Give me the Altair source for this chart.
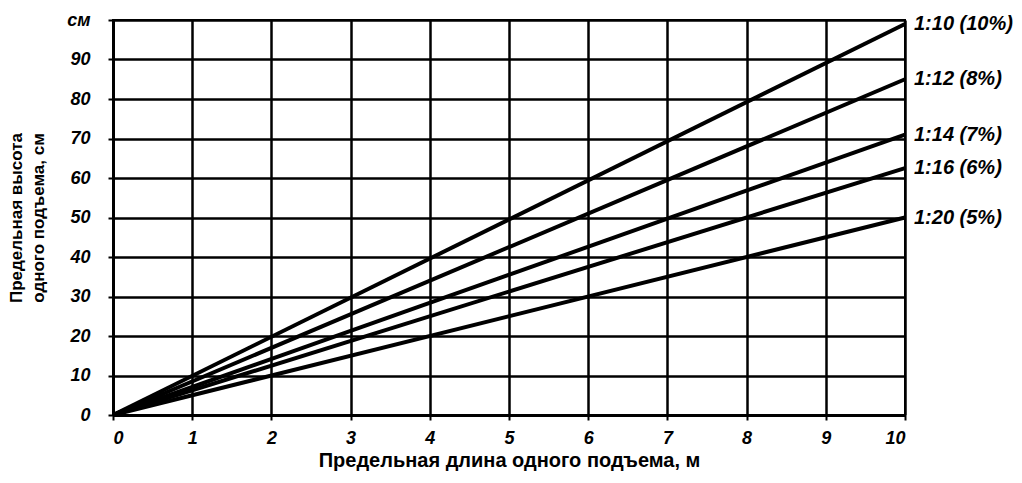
import altair as alt
import pandas as pd

ratios = ["1:10 (10%)", "1:12 (8%)", "1:14 (7%)", "1:16 (6%)", "1:20 (5%)"]
start_len = [0, 0, 0, 0, 0]
end_len = [10, 10, 10, 10, 10]
start_h = [0, 0, 0, 0, 0]
end_h = [99, 85, 71, 62.5, 50]
x_ticks = [0, 1, 2, 3, 4, 5, 6, 7, 8, 9, 10]
y_ticks = [0, 10, 20, 30, 40, 50, 60, 70, 80, 90, 100]

rows = []
for r, x0, x1, y0, y1 in zip(ratios, start_len, end_len, start_h, end_h):
    rows.append({"ratio": r, "x": x0, "y": y0})
    rows.append({"ratio": r, "x": x1, "y": y1})
lines_df = pd.DataFrame(rows)
labels_df = pd.DataFrame({"ratio": ratios, "x": end_len, "y": end_h})

FONT = "Liberation Sans"

xscale = alt.Scale(domain=[0, 10], nice=False, zero=True)
yscale = alt.Scale(domain=[0, 100], nice=False, zero=True)

xaxis = alt.Axis(values=x_ticks, format="d", labelOverlap=False,
                 title="Предельная длина одного подъема, м",
                 titleFontSize=20, titlePadding=3, labelPadding=9)
yaxis = alt.Axis(values=y_ticks, tickCount=11, labelOverlap=False,
                 labelExpr="datum.value == 100 ? 'см' : datum.label",
                 title=["Предельная высота", "одного подъема, см"],
                 titleFontSize=17, titleLineHeight=22, titlePadding=19, labelPadding=18)

lines = alt.Chart(lines_df).mark_line(color="black", strokeWidth=4).encode(
    x=alt.X("x:Q", scale=xscale, axis=xaxis),
    y=alt.Y("y:Q", scale=yscale, axis=yaxis),
    detail="ratio:N",
)

labels = alt.Chart(labels_df).mark_text(
    align="left", baseline="middle", dx=9, font=FONT, fontSize=20,
    fontStyle="italic", fontWeight="bold", color="black"
).encode(
    x=alt.X("x:Q", scale=xscale, axis=xaxis),
    y=alt.Y("y:Q", scale=yscale, axis=yaxis),
    text="ratio:N",
)

chart = (lines + labels).properties(
    width=792, height=395,
    autosize=alt.AutoSizeParams(type="none"),
    padding={"left": 105, "top": 12, "right": 109, "bottom": 60},
).configure_view(
    stroke="black", strokeWidth=2
).configure_axis(
    labelFont=FONT, labelFontSize=18, labelFontStyle="italic", labelFontWeight="bold",
    labelColor="black",
    titleFont=FONT, titleFontWeight="bold", titleColor="black",
    grid=True, gridColor="black", gridWidth=2.5, gridOpacity=1,
    domainColor="black", domainWidth=3,
    tickColor="black", tickWidth=2, tickSize=5,
)

chart.save("out.html", embed_options={"renderer": "svg", "actions": False})
